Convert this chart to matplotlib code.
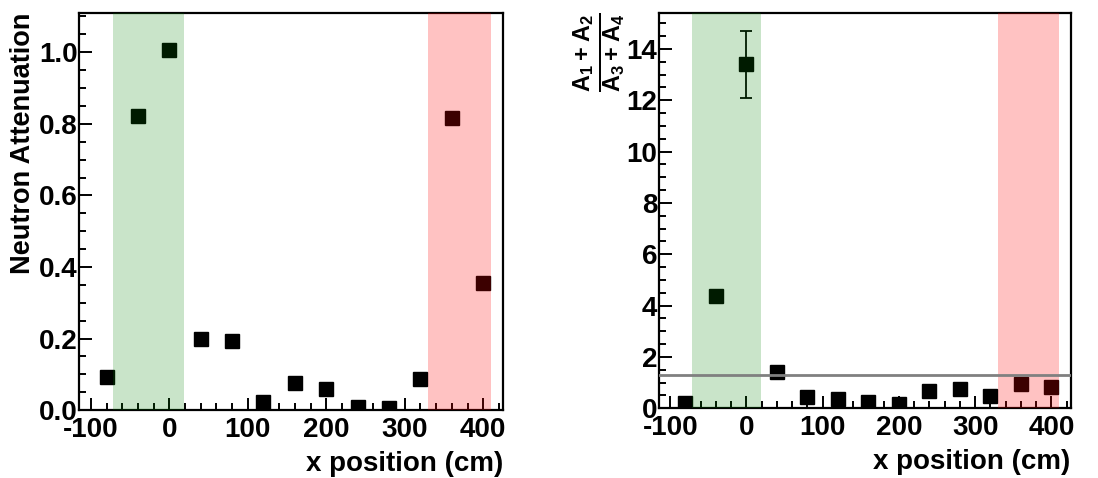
import matplotlib.pyplot as plt
from matplotlib.ticker import MultipleLocator
import numpy as np

plt.rcParams['font.family'] = ['Liberation Sans', 'DejaVu Sans']
plt.rcParams['font.weight'] = 'bold'
plt.rcParams['axes.unicode_minus'] = False
plt.rcParams['mathtext.fontset'] = 'custom'
plt.rcParams['mathtext.bf'] = 'Liberation Sans:bold'
plt.rcParams['mathtext.rm'] = 'Liberation Sans:bold'

# data
x_pos = [-80, -40, 0, 40, 80, 120, 160, 200, 240, 280, 320, 360, 400]
attenuation = [0.093, 0.822, 1.006, 0.198, 0.194, 0.023, 0.075, 0.059,
               0.009, 0.005, 0.086, 0.816, 0.356]
ratio = [0.19, 4.39, 13.4, 1.42, 0.44, 0.35, 0.23, 0.18,
         0.68, 0.73, 0.47, 0.94, 0.81]
ratio_err_x = [0]
ratio_err_lo = [1.33]
ratio_err_hi = [1.3]
ratio_level = 1.3

green_band = (-72, 19)
red_band = (330, 410)

fig = plt.figure(figsize=(10.98, 4.78), dpi=100)
ax1 = fig.add_axes([0.072, 0.142, 0.386, 0.831])
ax2 = fig.add_axes([0.600, 0.146, 0.375, 0.827])


def style(ax, ymaj, ymin):
    ax.set_xlim(-115, 425)
    ax.xaxis.set_major_locator(MultipleLocator(100))
    ax.xaxis.set_minor_locator(MultipleLocator(20))
    ax.yaxis.set_major_locator(MultipleLocator(ymaj))
    ax.yaxis.set_minor_locator(MultipleLocator(ymin))
    ax.tick_params(which='both', direction='in', top=False, right=False,
                   labelsize=20, width=1.4, pad=1)
    ax.tick_params(axis='x', which='both', pad=5)
    ax.tick_params(which='major', length=9)
    ax.tick_params(which='minor', length=5)
    for s in ax.spines.values():
        s.set_linewidth(1.6)
    for lab in ax.get_xticklabels() + ax.get_yticklabels():
        lab.set_fontweight('bold')
    ax.axvspan(*green_band, color=(0, 0.5, 0), alpha=0.21, lw=0, zorder=3)
    ax.axvspan(*red_band, color=(1, 0, 0), alpha=0.24, lw=0, zorder=3)
    ax.set_xlabel('x position (cm)', fontsize=20, fontweight='bold',
                  loc='right', labelpad=6)


# left panel
ax1.plot(x_pos, attenuation, 's', color='black', markersize=9.5, zorder=2)
ax1.set_ylim(0, 1.11)
style(ax1, 0.2, 0.05)
ax1.set_ylabel('Neutron Attenuation', fontsize=19.5, fontweight='bold',
               loc='top', labelpad=2)

# right panel
ax2.plot(x_pos, ratio, 's', color='black', markersize=9.5, zorder=2)
ax2.errorbar(ratio_err_x, [ratio[x_pos.index(0)]],
             yerr=[ratio_err_lo, ratio_err_hi], fmt='none', ecolor='black',
             elinewidth=1.3, capsize=4, capthick=1.3, zorder=2)
ax2.axhline(ratio_level, color='#808080', lw=2, zorder=4)
ax2.set_ylim(0, 15.4)
style(ax2, 2, 0.5)
ax2.set_ylabel(r'$\mathbf{\frac{A_1+A_2}{A_3+A_4}}$', fontsize=24,
               loc='top', labelpad=0)

fig.savefig('out.png', dpi=100)
